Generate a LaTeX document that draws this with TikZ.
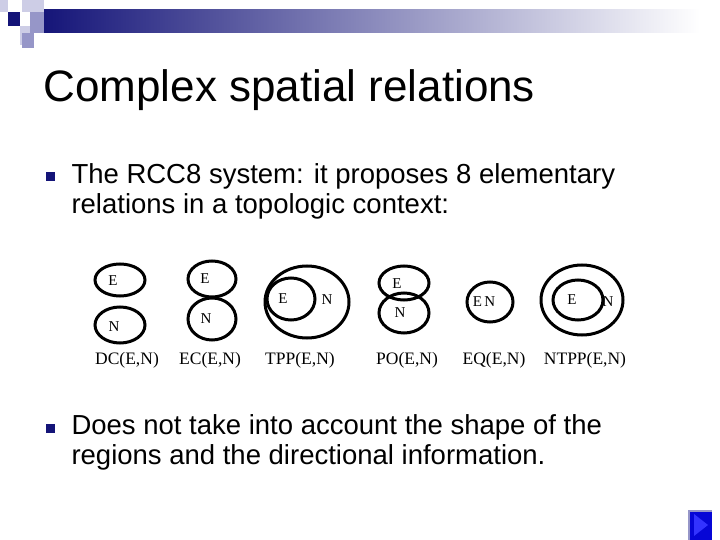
\documentclass[tikz,border=0pt]{standalone}
\usepackage{fontspec}
\setmainfont{Liberation Sans}
\newfontfamily\timesf{Liberation Serif}
\definecolor{navy}{RGB}{20,20,120}
\definecolor{lav}{RGB}{150,150,200}
\definecolor{palelav}{RGB}{205,205,230}
\tikzset{
	region/.style={line width=3pt},
	reglabel/.style={font=\timesf\fontsize{15}{15}\selectfont},
	relname/.style={font=\timesf\fontsize{17.5}{18}\selectfont},
	bullettext/.style={anchor=west,font=\fontsize{27.5}{30}\selectfont,align=left}
}
\begin{document}
\begin{tikzpicture}[x=1pt,y=-1pt]
	\useasboundingbox (0,0) rectangle (720,540);
	% header bar
	\shade[left color=navy,right color=white] (40,10) rectangle (700,33);
	\fill[navy] (8,12) rectangle (20,26);
	\fill[palelav] (22,0) rectangle (44,12);
	\fill[lav] (30,12) rectangle (44,33);
	\fill[palelav] (20,26) rectangle (30,45);
	\fill[lav] (22,33) rectangle (34,48);
	\fill[palelav] (0,0) rectangle (8,12);
	% title
	\node (title) at (40,90) [anchor=west,font=\fontsize{44}{48}\selectfont] {Complex spatial relations};
	% bullets
	\node (b1) at (50,177) [fill=navy,minimum size=9pt,inner sep=0pt] {};
	\node (t1) at (68,191) [bullettext] {The RCC8 system: it proposes 8 elementary\\relations in a topologic context:};
	\node (b2) at (50,428) [fill=navy,minimum size=9pt,inner sep=0pt] {};
	\node (t2) at (68,442) [bullettext] {Does not take into account the shape of the\\regions and the directional information.};
	% DC
	\draw[region] (120,280) ellipse (25 and 16);
	\draw[region] (120,325) ellipse (25 and 18);
	\node (dcE) at (113,281) [reglabel] {E};
	\node (dcN) at (114,327) [reglabel] {N};
	% EC
	\draw[region] (212,279) ellipse (24 and 18);
	\draw[region] (212,319) ellipse (24 and 21);
	\node (ecE) at (205,279) [reglabel] {E};
	\node (ecN) at (206,319) [reglabel] {N};
	% TPP
	\draw[region] (307,302) ellipse (42 and 36);
	\draw[region] (291,299) ellipse (24 and 21);
	\node (tppE) at (283,299) [reglabel] {E};
	\node (tppN) at (327,300) [reglabel] {N};
	% PO
	\draw[region] (404,283) ellipse (25 and 17);
	\draw[region] (404,313) ellipse (25 and 20);
	\node (poE) at (397,284) [reglabel] {E};
	\node (poN) at (400,313) [reglabel] {N};
	% EQ
	\draw[region] (490,302) ellipse (23 and 20);
	\node (eqEN) at (484,302) [reglabel] {E\,N};
	% NTPP
	\draw[region] (582,300) ellipse (41 and 35);
	\draw[region] (578,300) ellipse (25 and 20);
	\node (ntppE) at (572,300) [reglabel] {E};
	\node (ntppN) at (608,302) [reglabel] {N};
	% relation names
	\node (dc) at (127,360) [relname] {DC(E,N)};
	\node (ec) at (210,360) [relname] {EC(E,N)};
	\node (tpp) at (300,360) [relname] {TPP(E,N)};
	\node (po) at (407,360) [relname] {PO(E,N)};
	\node (eq) at (494,360) [relname] {EQ(E,N)};
	\node (ntpp) at (585,360) [relname] {NTPP(E,N)};
	% navigation button
	\fill[lav] (688,510) rectangle (712,540);
	\fill[blue!70!navy] (690,512) rectangle (712,540);
	\fill[blue!80] (694,514) -- (708,525) -- (694,536) -- cycle;
\end{tikzpicture}
\end{document}
